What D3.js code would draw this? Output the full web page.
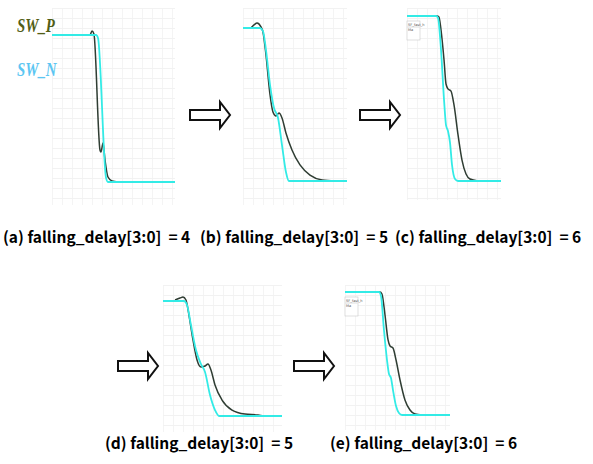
<!DOCTYPE html>
<html>
<head>
<meta charset="utf-8">
<script src="https://cdn.jsdelivr.net/npm/d3@7/dist/d3.min.js"></script>
<style>
  body { margin: 0; background: #fff; }
  svg { display: block; }
  .cap { font-family: "Noto Sans CJK KR", "Noto Sans", sans-serif; font-weight: bold; font-size: 15.5px; white-space: pre; }
</style>
</head>
<body>
<svg id="chart" width="593" height="464"></svg>
<script>
// panel captions
var captions = ["(a) falling_delay[3:0]  = 4", "(b) falling_delay[3:0]  = 5", "(c) falling_delay[3:0]  = 6",
                "(d) falling_delay[3:0]  = 5", "(e) falling_delay[3:0]  = 6"];
var seriesNames = ["SW_P", "SW_N"];

// waveforms: [time (% of window), normalized voltage]
var swP_a = [[0,1],[30.9,1],[32.5,1.027],[34.1,1.007],[39.0,0.218],[39.8,0.204],[41.5,0.265],[43.1,0.15],[45.5,0.034],[48.8,0.007],[53.7,0]];
var swN_a = [[0,1],[35.8,1],[37.4,0.98],[43.9,0.03],[45.5,0],[100,0]];

var swP_b = [[0,1],[6.7,1],[10.6,1.02],[13.5,1.033],[17.3,1.007],[19.2,0.974],[22.1,0.824],[26.0,0.562],[28.8,0.451],[31.7,0.425],[34.6,0.444],[37.5,0.412],[41.3,0.314],[47.1,0.203],[54.8,0.105],[64.4,0.039],[76.0,0.007],[88.5,0]];
var swN_b = [[0,1],[16.3,1],[19.2,0.98],[22.1,0.856],[26.0,0.627],[29.8,0.477],[33.7,0.412],[37.5,0.235],[41.3,0.059],[44.2,0],[100,0]];

var swP_c = [[0,1],[31.9,1],[34.0,0.994],[36.2,0.915],[39.4,0.733],[41.5,0.588],[43.6,0.558],[46.8,0.545],[50.0,0.461],[54.3,0.279],[58.5,0.127],[62.8,0.042],[67.0,0.012],[75.5,0]];
var swN_c = [[0,1],[30.9,1],[33.0,0.988],[36.2,0.794],[39.4,0.491],[41.5,0.339],[43.6,0.303],[45.7,0.236],[47.9,0.097],[51.1,0.012],[54.3,0],[100,0]];

var swP_d = [[10.1,1.009],[14.3,1.026],[16.8,1.035],[19.3,1.009],[21.8,0.878],[25.2,0.661],[28.6,0.487],[31.9,0.426],[35.3,0.435],[37.8,0.452],[40.3,0.4],[43.7,0.27],[49.6,0.139],[58.0,0.052],[68.9,0.017],[79.8,0.009],[85,0]];
var swN_d = [[0,1],[17.6,1],[20.2,0.965],[23.5,0.791],[27.7,0.574],[31.9,0.452],[35.3,0.383],[39.5,0.183],[43.7,0.052],[47.1,0],[100,0]];

var swP_e = [[0,1],[33.3,1],[35.2,0.984],[38.1,0.813],[41.0,0.61],[42.9,0.561],[45.7,0.545],[48.6,0.447],[52.4,0.285],[57.1,0.122],[61.9,0.041],[66.7,0.008],[73.3,0]];
var swN_e = [[0,1],[32.4,1],[34.3,0.967],[37.1,0.691],[40.0,0.447],[41.9,0.333],[43.8,0.301],[45.7,0.203],[48.6,0.073],[51.4,0.016],[54.3,0],[100,0]];

var waves = [[swP_a, swN_a], [swP_b, swN_b], [swP_c, swN_c], [swP_d, swN_d], [swP_e, swN_e]];

// layout (pixels)
var panels = [
  {x0: 52,  x1: 175, top: 8,   bottom: 205, hi: 35,  lo: 182, capX: 3,   capY: 243, legend: false},
  {x0: 243, x1: 347, top: 8,   bottom: 205, hi: 28,  lo: 181, capX: 200, capY: 243, legend: false},
  {x0: 407, x1: 501, top: 8,   bottom: 200, hi: 16,  lo: 181, capX: 395, capY: 243, legend: true},
  {x0: 163, x1: 282, top: 285, bottom: 432, hi: 301, lo: 416, capX: 105, capY: 449, legend: false},
  {x0: 345, x1: 450, top: 285, bottom: 430, hi: 292, lo: 415, capX: 330, capY: 449, legend: true}
];
var arrows = [{x: 190, y: 115}, {x: 360, y: 115}, {x: 118, y: 366}, {x: 294, y: 366}];

var svg = d3.select("#chart");
var line = d3.line().curve(d3.curveMonotoneX);

panels.forEach(function(p, i) {
  var x = d3.scaleLinear().domain([0, 100]).range([p.x0, p.x1]);
  var y = d3.scaleLinear().domain([0, 1]).range([p.lo, p.hi]);
  var g = svg.append("g");

  // faint scope grid
  var gx = d3.range(p.x0, p.x1 + 1, 10);
  var gy = d3.range(p.top, p.bottom + 1, 10);
  g.selectAll(".vg").data(gx).enter().append("line")
    .attr("x1", function(d) { return d + 0.5; }).attr("x2", function(d) { return d + 0.5; })
    .attr("y1", p.top).attr("y2", p.bottom)
    .attr("stroke", "#f4f4f4").attr("stroke-width", 1);
  g.selectAll(".hg").data(gy).enter().append("line")
    .attr("y1", function(d) { return d + 0.5; }).attr("y2", function(d) { return d + 0.5; })
    .attr("x1", p.x0).attr("x2", p.x1)
    .attr("stroke", "#f2f2f2").attr("stroke-width", 1);

  line.x(function(d) { return x(d[0]); }).y(function(d) { return y(d[1]); });

  // SW_P under, SW_N on top (as in the scope capture)
  g.append("path").datum(waves[i][0])
    .attr("fill", "none").attr("stroke", "#2f3d33").attr("stroke-width", 1.5)
    .attr("stroke-linejoin", "round").attr("d", line);
  g.append("path").datum(waves[i][1])
    .attr("fill", "none").attr("stroke", "#33ebe6").attr("stroke-width", 1.8)
    .attr("stroke-linejoin", "round").attr("d", line);

  if (p.legend) {
    var lg = g.append("g").attr("transform", "translate(" + p.x0 + "," + (p.hi + 5) + ")");
    lg.append("rect").attr("width", 13).attr("height", 19)
      .attr("fill", "#fff").attr("stroke", "#c8c8c8").attr("stroke-width", 0.6);
    lg.append("text").attr("x", 1).attr("y", 4.5).attr("font-size", 3.5)
      .attr("font-family", "DejaVu Sans").attr("fill", "#555").text("SF_fast_h");
    lg.append("line").attr("x1", 0.5).attr("x2", 12.5).attr("y1", 6).attr("y2", 6)
      .attr("stroke", "#bbb").attr("stroke-width", 0.5);
    lg.append("text").attr("x", 1).attr("y", 10).attr("font-size", 3.5)
      .attr("font-family", "DejaVu Sans").attr("fill", "#555").text("Ma");
  }

  svg.append("text").attr("class", "cap")
    .attr("x", p.capX).attr("y", p.capY).text(captions[i]);
});

// series labels
[{y: 32, c: "#525e16"}, {y: 76, c: "#5cc6f2"}].forEach(function(s, k) {
  svg.append("text")
    .attr("transform", "translate(17," + s.y + ") scale(0.78,1)")
    .attr("font-family", "Liberation Serif, serif")
    .attr("font-style", "italic").attr("font-weight", "bold")
    .attr("font-size", 19).attr("fill", s.c)
    .text(seriesNames[k]);
});

// outline arrows
arrows.forEach(function(a) {
  var pts = [[0, -5], [30, -5], [30, -13], [40, 0], [30, 13], [30, 5], [0, 5]];
  svg.append("polygon")
    .attr("points", pts.map(function(q) { return (a.x + q[0]) + "," + (a.y + q[1]); }).join(" "))
    .attr("fill", "#fff").attr("stroke", "#111").attr("stroke-width", 2)
    .attr("stroke-linejoin", "miter");
});
</script>
</body>
</html>
